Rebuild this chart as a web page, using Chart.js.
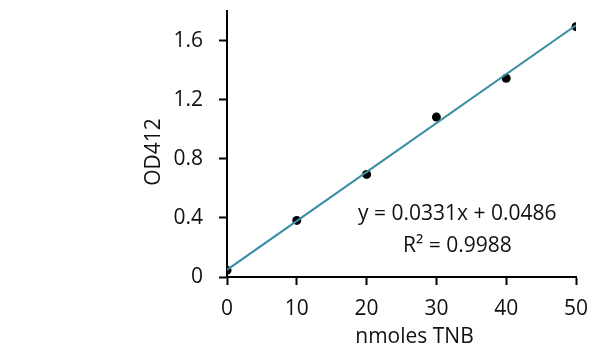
<!DOCTYPE html>
<html>
<head>
<meta charset="utf-8">
<script src="https://cdn.jsdelivr.net/npm/chart.js@4.4.1/dist/chart.umd.min.js"></script>
<style>
  html, body { margin: 0; padding: 0; background: #fff; }
  #wrap { width: 598px; height: 360px; }
</style>
</head>
<body>
<div id="wrap"><canvas id="myChart" width="598" height="360"></canvas></div>
<script>
// measured points (nmoles TNB vs OD412)
const nmoles = [0, 10, 20, 30, 40, 50];
const od412 = [0.045, 0.383, 0.694, 1.082, 1.345, 1.694];

// linear trendline from the figure
const slope = 0.0331;
const intercept = 0.0486;
const trendX = [0, 50];

const xTitle = "nmoles TNB";
const yTitle = "OD412";
const eqLines = ["y = 0.0331x + 0.0486", "R\u00B2 = 0.9988"];

const FONT = "'Open Sans', sans-serif";
const TEXT_COLOR = "#111";

let points = [];
for (let i = 0; i < nmoles.length; i++) {
  points.push({ x: nmoles[i], y: od412[i] });
}
let trend = trendX.map(function (x) {
  return { x: x, y: slope * x + intercept };
});

// axis titles + equation text
const textPlugin = {
  id: "textPlugin",
  afterDraw(chart) {
    const ctx = chart.ctx;
    const area = chart.chartArea;
    const xs = chart.scales.x;
    const ys = chart.scales.y;
    ctx.save();
    ctx.fillStyle = TEXT_COLOR;
    ctx.font = "21px " + FONT;
    ctx.textAlign = "center";
    ctx.textBaseline = "alphabetic";

    ctx.fillText(xTitle, (area.left + area.right) / 2 + 13, area.bottom + 66);

    ctx.save();
    ctx.translate(area.left - 67, (area.top + area.bottom) / 2 + 8);
    ctx.rotate(-Math.PI / 2);
    ctx.fillText(yTitle, 0, 0);
    ctx.restore();

    ctx.fillText(eqLines[0], xs.getPixelForValue(33), ys.getPixelForValue(0.387));
    ctx.fillText(eqLines[1], xs.getPixelForValue(33), ys.getPixelForValue(0.171));
    ctx.restore();
  },
};

const ctx = document.getElementById("myChart").getContext("2d");
const myChart = new Chart(ctx, {
  type: "scatter",
  data: {
    datasets: [
      {
        label: "trend",
        data: trend,
        showLine: true,
        borderColor: "#3a8da4",
        borderWidth: 2,
        pointRadius: 0,
        fill: false,
      },
      {
        label: "OD412",
        data: points,
        backgroundColor: "#000",
        borderColor: "#000",
        pointRadius: 4.5,
        pointBorderWidth: 0,
      },
    ],
  },
  options: {
    responsive: false,
    animation: false,
    devicePixelRatio: 1,
    layout: { padding: { left: 0, right: 22, top: 11, bottom: 0 } },
    plugins: {
      legend: { display: false },
      tooltip: { enabled: false },
    },
    scales: {
      x: {
        type: "linear",
        min: 0,
        max: 50,
        ticks: {
          stepSize: 10,
          color: TEXT_COLOR,
          padding: 11,
          font: { family: FONT, size: 21 },
        },
        grid: {
          display: true,
          drawOnChartArea: false,
          drawTicks: true,
          tickLength: 8,
          tickWidth: 2,
          tickColor: "#000",
        },
        border: { color: "#000", width: 2 },
        afterFit(scale) {
          scale.height = 83;
          scale.paddingLeft = 0;
          scale.paddingRight = 0;
        },
      },
      y: {
        type: "linear",
        min: 0,
        max: 1.8,
        ticks: {
          stepSize: 0.4,
          includeBounds: false,
          color: TEXT_COLOR,
          padding: 16,
          font: { family: FONT, size: 21 },
          callback: function (v) {
            return String(+v.toFixed(1));
          },
        },
        grid: {
          display: true,
          drawOnChartArea: false,
          drawTicks: true,
          tickLength: 8,
          tickWidth: 2,
          tickColor: "#000",
        },
        border: { color: "#000", width: 2 },
        afterFit(scale) {
          scale.width = 227;
          scale.paddingTop = 0;
          scale.paddingBottom = 0;
        },
      },
    },
  },
  plugins: [textPlugin],
});
</script>
</body>
</html>
